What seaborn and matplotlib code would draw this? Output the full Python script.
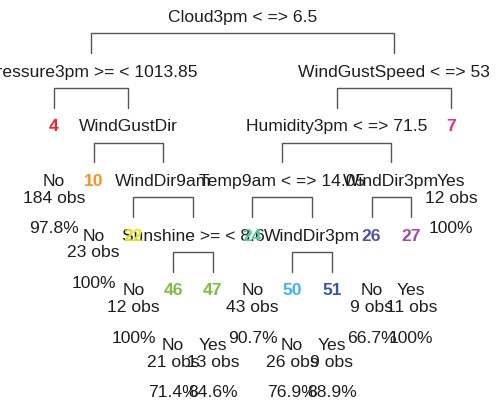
import matplotlib
matplotlib.use("Agg")
import matplotlib.pyplot as plt
import seaborn as sns
import pandas as pd

# ---- data ----
split_nodes = [1, 2, 3, 5, 6, 11, 12, 13, 23, 25]
split_labels = ["Cloud3pm < => 6.5", "Pressure3pm >= < 1013.85", "WindGustSpeed < => 53",
                "WindGustDir", "Humidity3pm < => 71.5", "WindDir9am", "Temp9am < => 14.05",
                "WindDir3pm", "Sunshine >= < 8.6", "WindDir3pm"]
leaf_nodes = [4, 10, 22, 46, 47, 24, 50, 51, 26, 27, 7]
leaf_class = ["No", "No", "No", "No", "Yes", "No", "No", "Yes", "No", "Yes", "Yes"]
leaf_obs = [184, 23, 12, 21, 13, 43, 26, 9, 9, 11, 12]
leaf_pct = ["97.8%", "100%", "100%", "71.4%", "84.6%", "90.7%", "76.9%", "88.9%", "66.7%", "100%", "100%"]
leaf_colors = ["#F2242E", "#F7901E", "#E6E21A", "#7BC143", "#7BC143", "#5CC5A0",
               "#3DB4E8", "#3656A6", "#5254A3", "#A54AA8", "#EE2A8E"]

sns.set_theme(style="white")
plt.rcParams['font.family'] = ['Liberation Sans', 'DejaVu Sans']

def depth(n):
    d = 0
    while n > 1:
        n //= 2
        d += 1
    return d

# in-order leaf positions
xpos = {}
counter = [0]
def walk(n):
    if n in leaf_nodes:
        xpos[n] = counter[0]
        counter[0] += 1
        return xpos[n]
    l = walk(2 * n)
    r = walk(2 * n + 1)
    xpos[n] = (l + r) / 2
    return xpos[n]
walk(1)

fig = plt.figure(figsize=(4.96, 4.00), dpi=100)
ax = fig.add_axes([0, 0, 1, 1])

# brackets
rows = []
for n in split_nodes:
    d = depth(n)
    xl, xr = xpos[2 * n], xpos[2 * n + 1]
    top = d + 0.32
    bot = d + 0.68
    for k, (x, y) in enumerate([(xl, bot), (xl, top), (xr, top), (xr, bot)]):
        rows.append({"x": x, "y": y, "u": n, "o": k})
br = pd.DataFrame(rows)
sns.lineplot(data=br, x="x", y="y", units="u", estimator=None, sort=False,
             color="#555555", lw=1.0, ax=ax, legend=False)

txt = "#1e1e1e"
fs = 12.6
dy = 0.03
for n, lab in zip(split_nodes, split_labels):
    ax.text(xpos[n], depth(n) + dy, lab, ha="center", va="center", fontsize=fs, color=txt)

for n, c, o, p, col in zip(leaf_nodes, leaf_class, leaf_obs, leaf_pct, leaf_colors):
    d = depth(n) + dy
    x = xpos[n]
    ax.text(x, d, str(n), ha="center", va="center", fontsize=fs, color=col, fontweight="bold")
    ax.text(x, d + 1.0, c, ha="center", va="center", fontsize=fs, color=txt)
    ax.text(x, d + 1.31, f"{o} obs", ha="center", va="center", fontsize=fs, color=txt)
    ax.text(x, d + 1.87, p, ha="center", va="center", fontsize=fs, color=txt)

sp = 39.7
ax.set_xlim(-54 / sp, (496 - 54) / sp)
ax.set_ylim((400 - 16) / 54.6, -16 / 54.6)
ax.axis("off")
fig.savefig("out.png", dpi=100)
